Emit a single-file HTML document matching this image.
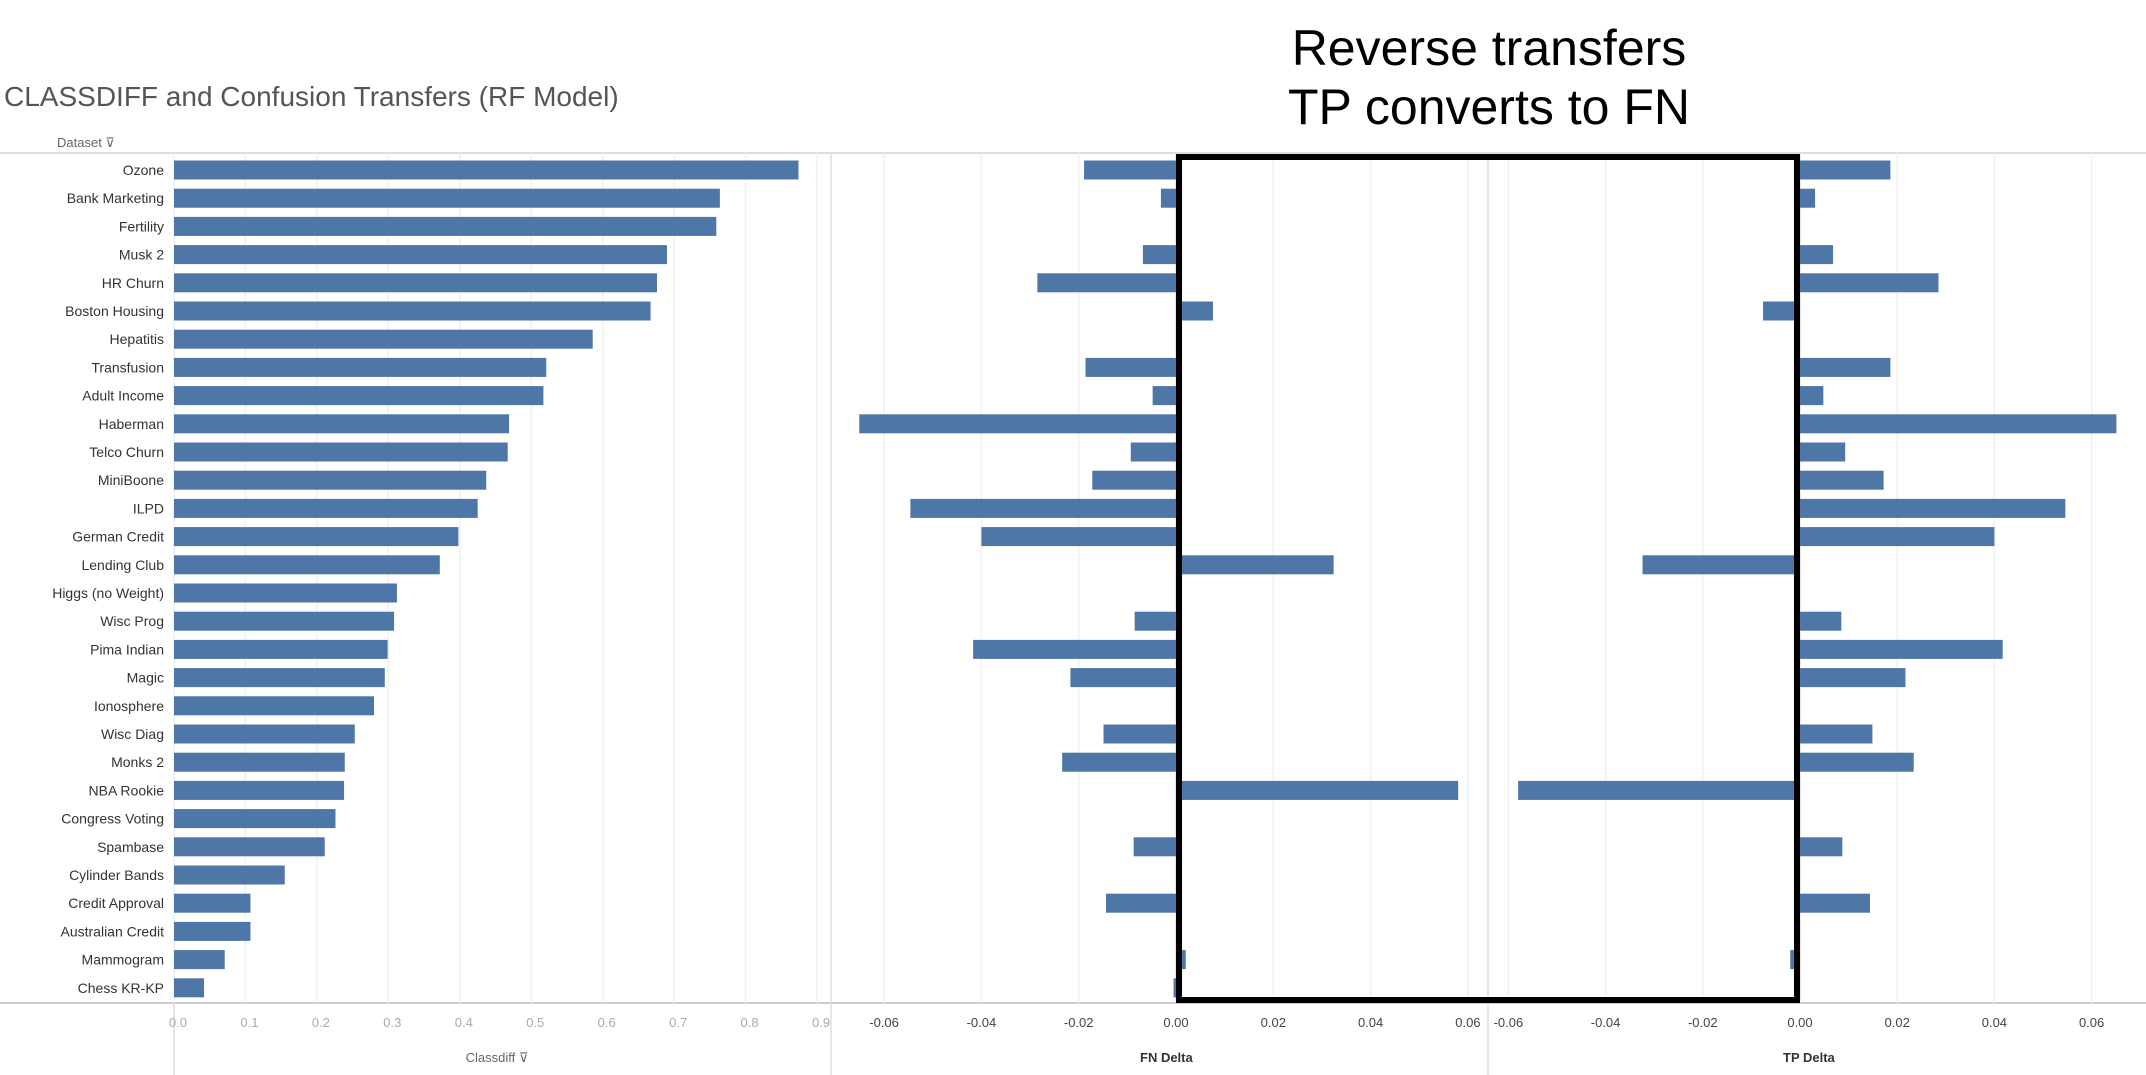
<!DOCTYPE html>
<html><head><meta charset="utf-8"><style>
html,body{margin:0;padding:0;background:#fff;}
svg{display:block;font-family:"Liberation Sans",sans-serif;}
</style></head><body>
<svg id="c" width="2146" height="1075" viewBox="0 0 2146 1075"></svg>
<script>
const datasets=["Ozone","Bank Marketing","Fertility","Musk 2","HR Churn","Boston Housing","Hepatitis","Transfusion","Adult Income","Haberman","Telco Churn","MiniBoone","ILPD","German Credit","Lending Club","Higgs (no Weight)","Wisc Prog","Pima Indian","Magic","Ionosphere","Wisc Diag","Monks 2","NBA Rookie","Congress Voting","Spambase","Cylinder Bands","Credit Approval","Australian Credit","Mammogram","Chess KR-KP"];
const classdiff=[0.874,0.764,0.759,0.690,0.676,0.667,0.586,0.521,0.517,0.469,0.467,0.437,0.425,0.398,0.372,0.312,0.308,0.299,0.295,0.280,0.253,0.239,0.238,0.226,0.211,0.155,0.107,0.107,0.071,0.042];
const fnDelta=[-0.0189,-0.0031,0,-0.0068,-0.0285,0.0076,0,-0.0186,-0.0048,-0.0651,-0.0093,-0.0172,-0.0546,-0.040,0.0324,0,-0.0085,-0.0417,-0.0217,0,-0.0149,-0.0234,0.058,0,-0.0087,0,-0.0144,0,0.002,-0.0005];
const tpDelta=[0.0186,0.0031,0,0.0068,0.0285,-0.0076,0,0.0186,0.0048,0.0651,0.0093,0.0172,0.0546,0.040,-0.0324,0,0.0085,0.0417,0.0217,0,0.0149,0.0234,-0.058,0,0.0087,0,0.0144,0,-0.002,0];
const classTicks=["0.0","0.1","0.2","0.3","0.4","0.5","0.6","0.7","0.8","0.9"];
const deltaTicks=["-0.06","-0.04","-0.02","0.00","0.02","0.04","0.06"];

const svg=document.getElementById('c');
const NS='http://www.w3.org/2000/svg';
function mk(tag,attrs,parent){const e=document.createElementNS(NS,tag);for(const k in attrs)e.setAttribute(k,attrs[k]);(parent||svg).appendChild(e);return e;}
function txt(s,attrs){const e=mk('text',attrs);e.textContent=s;return e;}

const rowY=i=>170+i*28.2;
const barH=19;
const xClass=v=>174+v*714.5;
const xFN=v=>1176+v*4865;
const xTP=v=>1800+v*4860;
const color="#4e76a6";

let t=txt("CLASSDIFF and Confusion Transfers (RF Model)",{x:4,y:106,'font-size':28,fill:'#555'});

t=txt("Dataset ⊽",{x:57,y:147,'font-size':13,fill:'#666'});


mk('line',{x1:0,y1:153,x2:2146,y2:153,stroke:'#ddd','stroke-width':2});
mk('line',{x1:0,y1:1003,x2:2146,y2:1003,stroke:'#ccc','stroke-width':2});
mk('line',{x1:831,y1:153,x2:831,y2:1075,stroke:'#ddd','stroke-width':1.5});
mk('line',{x1:1488,y1:153,x2:1488,y2:1075,stroke:'#ddd','stroke-width':1.5});
mk('line',{x1:174,y1:1003,x2:174,y2:1075,stroke:'#ddd','stroke-width':1.5});

classTicks.forEach(s=>{const v=parseFloat(s);const x=xClass(v);
 mk('line',{x1:x,y1:153,x2:x,y2:1003,stroke:'#f0f0f0','stroke-width':1.5});
 const e=txt(s,{x:x+4,y:1027,'font-size':13,fill:'#aaa','text-anchor':'middle'});
 });
deltaTicks.forEach(s=>{const v=parseFloat(s);
 [[xFN,'fn'],[xTP,'tp']].forEach(([f,n])=>{const x=f(v);
  mk('line',{x1:x,y1:153,x2:x,y2:1003,stroke:v===0?'#e0e0e0':'#f0f0f0','stroke-width':1.5});
  const e=txt(s,{x:x,y:1027,'font-size':13,fill:'#444','text-anchor':'middle'});
  });});

t=txt("Classdiff ⊽",{x:497,y:1062,'font-size':13,fill:'#666','text-anchor':'middle'});

t=txt("FN Delta",{x:1140,y:1062,'font-size':13,fill:'#333','font-weight':'bold'});

t=txt("TP Delta",{x:1783,y:1062,'font-size':13,fill:'#333','font-weight':'bold'});


datasets.forEach((d,i)=>{const y=rowY(i);
 const l=txt(d,{x:164,y:y+5,'font-size':14,fill:'#333','text-anchor':'end'});
 
 let b=mk('rect',{x:xClass(0),y:y-barH/2,width:Math.max(0,xClass(classdiff[i])-xClass(0)),height:barH,fill:color});
 
 const f0=xFN(0),f1=xFN(fnDelta[i]);
 b=mk('rect',{x:Math.min(f0,f1),y:y-barH/2,width:Math.abs(f1-f0),height:barH,fill:color});
 
 const p0=xTP(0),p1=xTP(tpDelta[i]);
 b=mk('rect',{x:Math.min(p0,p1),y:y-barH/2,width:Math.abs(p1-p0),height:barH,fill:color});
 
});

let r=mk('rect',{x:1179,y:157,width:618,height:843,fill:'none',stroke:'#000','stroke-width':6});

t=txt("Reverse transfers",{x:1489,y:65,'font-size':50,fill:'#000','text-anchor':'middle'});

t=txt("TP converts to FN",{x:1489,y:124,'font-size':50,fill:'#000','text-anchor':'middle'});

</script>
</body></html>
